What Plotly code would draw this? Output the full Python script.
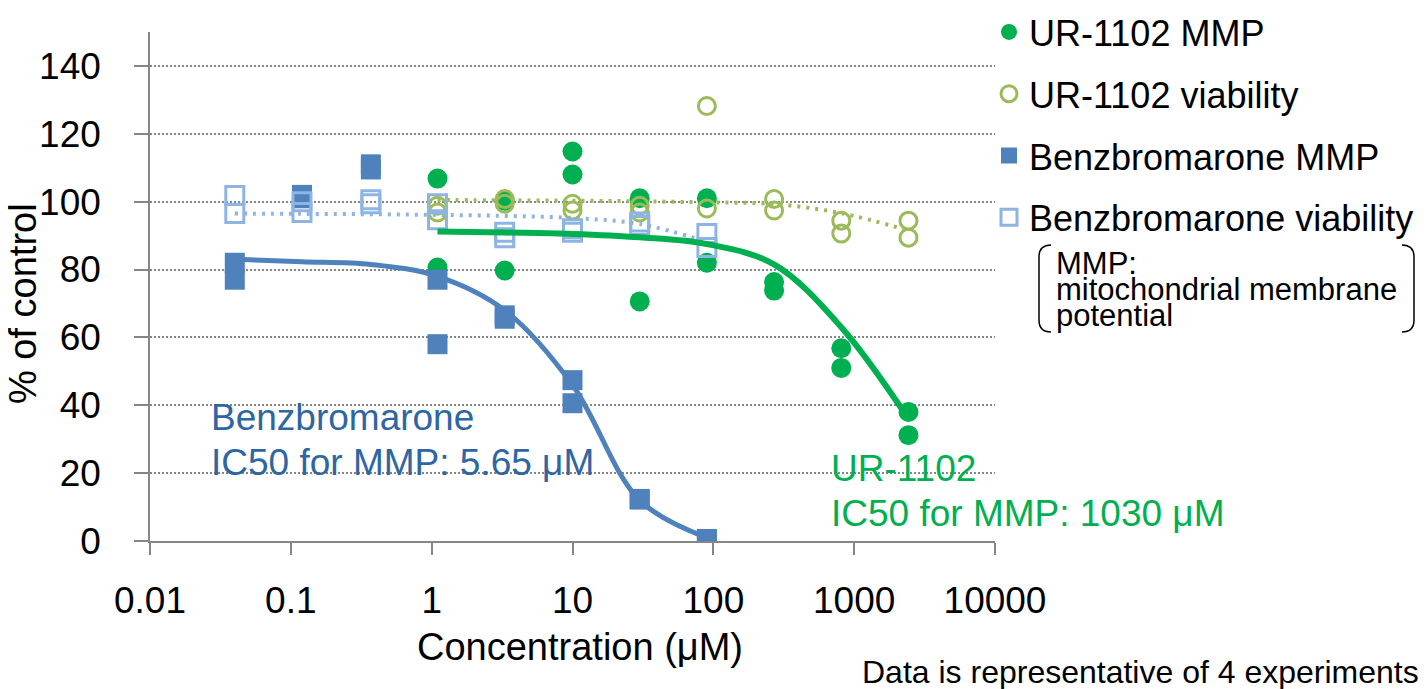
import plotly.graph_objects as go

# ---------------- data ----------------
bz_conc = [0.04, 0.12, 0.37, 1.1, 3.3, 10, 30, 90]
ur_conc = [1.1, 3.3, 10, 30, 90, 270, 810, 2430]

ur_mmp_a = [106.8, 100.3, 114.8, 101.0, 101.0, 76.3, 56.8, 38.0]
ur_mmp_b = [80.6, 79.7, 108.0, 70.6, 82.0, 73.8, 51.0, 31.2]
ur_via_a = [98.8, 100.8, 99.4, 98.8, 128.2, 100.8, 94.4, 94.4]
ur_via_b = [96.8, 99.4, 97.4, 96.8, 98.0, 97.4, 90.6, 89.4]

bz_mmp_a = [82.0, 102.0, 111.0, 77.0, 66.5, 47.4, 12.4, 0.6]
bz_mmp_b = [77.0, 101.0, 109.5, 58.0, 65.5, 40.6, 12.2, 0.4]
bz_via_a = [101.8, 100.0, 100.6, 99.4, 91.0, 92.0, 94.0, 90.6]
bz_via_b = [96.5, 96.8, 99.4, 94.7, 89.4, 91.0, 93.0, 86.5]

# fitted curves
bz_mmp_fit = [83.0, 82.3, 81.5, 78.0, 68.0, 46.0, 12.0, 1.0]
bz_via_fit = [96.5, 96.4, 96.3, 96.1, 95.8, 95.2, 93.4, 88.2]
ur_mmp_fit = [91.2, 90.9, 90.5, 89.5, 87.5, 81.5, 63.0, 36.0]
ur_via_fit = [100.5, 100.4, 100.3, 100.1, 99.8, 99.3, 96.6, 91.5]

x_tickvals = [0.01, 0.1, 1, 10, 100, 1000, 10000]
x_ticktext = ["0.01", "0.1", "1", "10", "100", "1000", "10000"]
y_tickvals = [0, 20, 40, 60, 80, 100, 120, 140]

# ---------------- styling ----------------
FONT = "Liberation Sans, Arial, sans-serif"
GREEN = "#00B050"
OLIVE = "#9BBB59"
BLUE = "#4F81BD"
LBLUE = "#8EB4E3"
BTXT = "#2E66A3"
AXIS = "#868686"

OFF = 8                      # page body margin of the browser
VW, VH = 1427, 689
W, H = VW - OFF, VH - OFF
L, R, T, B = 150, 995, 32, 541   # plot area in reference pixels


def px_x(p):
    return (p - L) / (R - L)


def px_y(p):
    return (B - p) / (B - T)


fig = go.Figure()

# dotted viability fits
fig.add_trace(go.Scatter(x=bz_conc, y=bz_via_fit, mode="lines", showlegend=False,
                         line=dict(color=LBLUE, width=4, dash="3px,6px", shape="spline"),
                         hoverinfo="skip"))
fig.add_trace(go.Scatter(x=ur_conc, y=ur_via_fit, mode="lines", showlegend=False,
                         line=dict(color=OLIVE, width=4, dash="3px,6px", shape="spline"),
                         hoverinfo="skip"))

# points
fig.add_trace(go.Scatter(
    x=ur_conc + ur_conc, y=ur_mmp_a + ur_mmp_b, mode="markers", name="UR-1102 MMP",
    legendgroup="a",
    marker=dict(symbol="circle", size=20, color=GREEN)))
fig.add_trace(go.Scatter(
    x=ur_conc + ur_conc, y=ur_via_a + ur_via_b, mode="markers", name="UR-1102 viability",
    legendgroup="b",
    marker=dict(symbol="circle-open", size=17, color=OLIVE, line=dict(width=3, color=OLIVE))))
fig.add_trace(go.Scatter(
    x=bz_conc + bz_conc, y=bz_mmp_a + bz_mmp_b, mode="markers", name="Benzbromarone MMP",
    legendgroup="c",
    marker=dict(symbol="square", size=20, color=BLUE)))
fig.add_trace(go.Scatter(
    x=bz_conc + bz_conc, y=bz_via_a + bz_via_b, mode="markers", name="Benzbromarone viability",
    legendgroup="d",
    marker=dict(symbol="square-open", size=18, color=LBLUE, line=dict(width=3, color=LBLUE))))

# MMP fits
fig.add_trace(go.Scatter(x=bz_conc, y=bz_mmp_fit, mode="lines", showlegend=False,
                         line=dict(color=BLUE, width=5, shape="spline"), hoverinfo="skip"))
fig.add_trace(go.Scatter(x=ur_conc, y=ur_mmp_fit, mode="lines", showlegend=False,
                         line=dict(color=GREEN, width=6, shape="spline"), hoverinfo="skip"))

annotations = []


def txt(text, xp, yp, size, color="black", xanchor="left", angle=0):
    annotations.append(dict(
        text=text, xref="paper", yref="paper", x=px_x(xp), y=px_y(yp),
        xanchor=xanchor, yanchor="middle", showarrow=False, textangle=angle,
        font=dict(family=FONT, size=size, color=color)))


txt("Benzbromarone", 209, 417, 37, BTXT)
txt("IC50 for MMP: 5.65 μM", 209, 462, 37, BTXT)
txt("UR-1102", 829, 468, 37, GREEN)
txt("IC50 for MMP: 1030 μM", 829, 513, 37, GREEN)

txt("MMP:", 1054, 263, 31)
txt("mitochondrial membrane", 1054, 289, 31)
txt("potential", 1054, 315, 31)

txt("Concentration (μM)", 580, 647, 38, xanchor="center")
txt("% of control", 23, 303, 38, xanchor="center", angle=-90)
txt("Data is representative of 4 experiments", 1421, 672, 32, xanchor="right")

shapes = []


def bracket(x_edge, x_in, y0, y1):
    xe, xi = px_x(x_edge), px_x(x_in)
    ya, yb = px_y(y0), px_y(y1)
    ya2, yb2 = px_y(y0 + 12), px_y(y1 - 12)
    path = f"M {xi},{ya} Q {xe},{ya} {xe},{ya2} L {xe},{yb2} Q {xe},{yb} {xi},{yb}"
    shapes.append(dict(type="path", xref="paper", yref="paper", path=path,
                       line=dict(color="black", width=1.5)))


bracket(1039, 1051, 245, 332)
bracket(1414, 1402, 245, 332)

fig.update_layout(
    width=W, height=H,
    margin=dict(l=L - OFF, r=VW - R, t=T - OFF, b=VH - B, autoexpand=False),
    paper_bgcolor="white", plot_bgcolor="white",
    font=dict(family=FONT, size=35, color="black"),
    showlegend=True,
    legend=dict(x=px_x(989), y=px_y(2), xanchor="left", yanchor="top",
                font=dict(family=FONT, size=36, color="black"),
                traceorder="grouped", tracegroupgap=12,
                bgcolor="rgba(0,0,0,0)", itemsizing="trace"),
    annotations=annotations,
    shapes=shapes,
)

fig.update_xaxes(type="log", range=[-2, 4], tickvals=x_tickvals, ticktext=x_ticktext,
                 showgrid=False, zeroline=False, showline=True, linecolor=AXIS, linewidth=1.5,
                 ticks="outside", ticklen=12, tickcolor=AXIS, tickwidth=1.5,
                 tickfont=dict(family=FONT, size=37, color="black"),
                 ticklabelstandoff=14)
fig.update_yaxes(range=[0, 150], tickvals=y_tickvals,
                 showgrid=True, gridcolor=AXIS, gridwidth=1.5, griddash="2px,2px",
                 zeroline=False, showline=True, linecolor=AXIS, linewidth=1.5,
                 ticks="outside", ticklen=14, tickcolor=AXIS, tickwidth=1.5,
                 tickfont=dict(family=FONT, size=37, color="black"),
                 ticklabelstandoff=26)

fig.write_html("out.html")
